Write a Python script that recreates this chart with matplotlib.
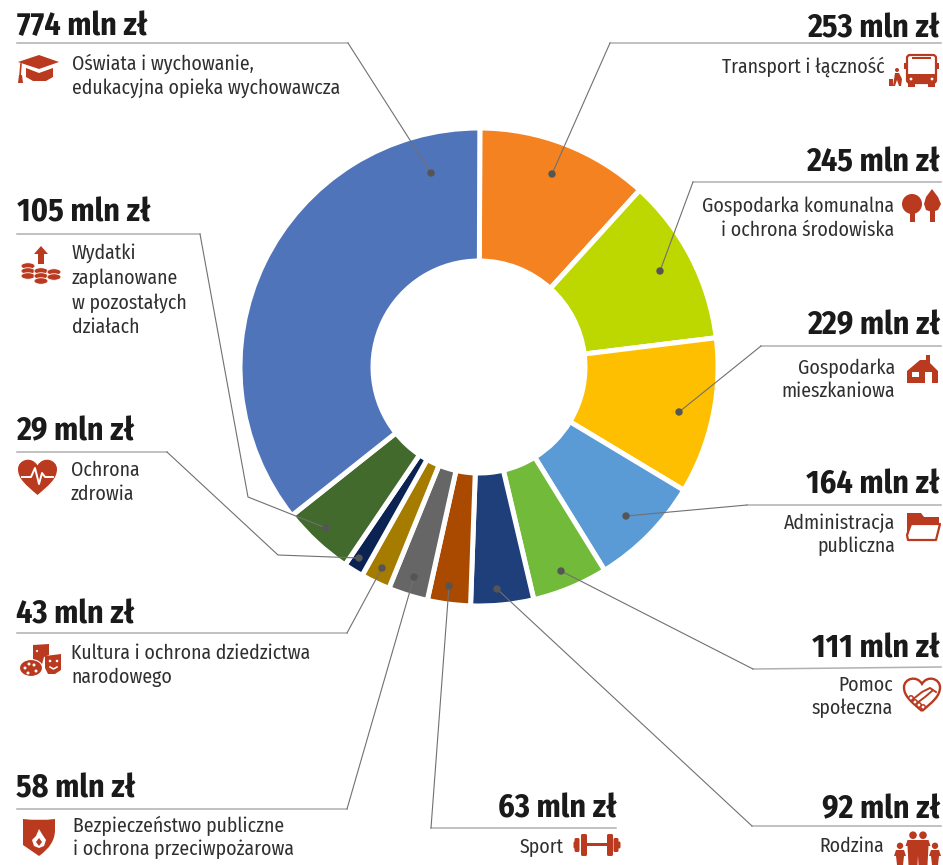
import matplotlib
matplotlib.use('Agg')
import matplotlib.pyplot as plt
import matplotlib.patches as patches
from matplotlib.path import Path

HEAD_FONT = ['Fira Sans Condensed', 'Lato', 'DejaVu Sans']
BODY_FONT = ['Fira Sans Condensed', 'Lato', 'DejaVu Sans']

# dane (mln zł), zgodnie z ruchem wskazówek od góry
categories = ['Transport i łączność', 'Gospodarka komunalna\ni ochrona środowiska',
              'Gospodarka\nmieszkaniowa', 'Administracja\npubliczna', 'Pomoc\nspołeczna',
              'Rodzina', 'Sport', 'Bezpieczeństwo publiczne\ni ochrona przeciwpożarowa',
              'Kultura i ochrona dziedzictwa\nnarodowego', 'Ochrona\nzdrowia',
              'Wydatki\nzaplanowane\nw pozostałych\ndziałach',
              'Oświata i wychowanie,\nedukacyjna opieka wychowawcza']
values = [253, 245, 229, 164, 111, 92, 63, 58, 43, 29, 105, 774]
colors = ['#F58220', '#BDD700', '#FDBF00', '#5B9BD5', '#72BB3A', '#1E3F7A',
          '#A94A00', '#666666', '#A67C00', '#0A2352', '#436A2D', '#4F74BA']

RED = '#B93A1F'

fig = plt.figure(figsize=(9.43, 8.65), dpi=100)
ax = fig.add_axes([0, 0, 1, 1])

# y odwrócone, więc kąty rosną zgodnie z ruchem wskazówek
ax.pie(values, colors=colors, center=(479, 367), radius=239, startangle=270.2, counterclock=True,
       wedgeprops=dict(width=133, edgecolor='white', linewidth=3.6))
ax.set_xlim(0, 943)
ax.set_ylim(865, 0)

# --- linie odniesienia ---
leaders = [
    [(941, 43), (610, 43), (552, 174)],
    [(941, 182), (693, 182), (660, 271)],
    [(941, 346), (761, 346), (679, 412)],
    [(941, 505), (747, 505), (626, 516)],
    [(941, 667), (753, 669), (561, 571)],
    [(941, 826), (752, 826), (497, 589)],
    [(616, 828), (431, 828), (449, 586)],
    [(17, 809), (347, 809), (414, 577)],
    [(17, 633), (347, 633), (382, 568)],
    [(17, 452), (167, 452), (278, 555), (359, 558)],
    [(17, 234), (200, 234), (248, 497), (326, 528)],
    [(17, 43), (348, 43), (431, 173)],
]
for pts in leaders:
    ax.plot([p[0] for p in pts[:2]], [p[1] for p in pts[:2]], color='#B0B0B0', lw=1.1, zorder=3)
    ax.plot([p[0] for p in pts[1:]], [p[1] for p in pts[1:]], color='#707070', lw=0.8, zorder=3)
    ax.add_patch(patches.Circle(pts[-1], 3, color='#555555', zorder=4))

# --- podpisy: x, linia bazowa nagłówka, linie bazowe opisu, x opisu ---
label_pos = [
    (940, 37, [73], 885, 'right'),
    (940, 172, [212, 236], 894, 'right'),
    (940, 334, [374, 397], 895, 'right'),
    (940, 493, [529, 552], 895, 'right'),
    (940, 657, [691, 714], 893, 'right'),
    (940, 818, [852], 884, 'right'),
    (617, 818, [853], 564, 'right'),
    (16, 798, [832, 855], 73, 'left'),
    (16, 624, [659, 683], 71, 'left'),
    (16, 440, [476, 500], 71, 'left'),
    (17, 222, [259, 284, 309, 333], 72, 'left'),
    (17, 35, [70, 94], 72, 'left'),
]
for cat, val, (hx, hy, lines, tx, ha) in zip(categories, values, label_pos):
    ax.text(hx, hy, f'{val} mln zł', ha=ha, va='baseline', fontsize=23, fontweight='bold',
            family=HEAD_FONT, color='#1A1A1A')
    for row, ty in zip(cat.split('\n'), lines):
        ax.text(tx, ty, row, ha=ha, va='baseline', fontsize=14.2, family=BODY_FONT, color='#2F2F2F')


# --- ikony ---
def poly(pts, color=RED, z=5):
    ax.add_patch(patches.Polygon(pts, closed=True, facecolor=color, edgecolor='none', zorder=z))


def rect(x, y, w, h, color=RED, z=5):
    ax.add_patch(patches.Rectangle((x, y), w, h, facecolor=color, edgecolor='none', zorder=z))


def circ(x, y, r, color=RED):
    ax.add_patch(patches.Circle((x, y), r, facecolor=color, edgecolor='none', zorder=7))


def heart(x0, x1, y0, y1, fc=RED, ec='none', lw=0):
    w, h = x1 - x0, y1 - y0
    xs = lambda t: x0 + t * w
    ys = lambda t: y0 + t * h
    verts = [(xs(.5), ys(1)), (xs(.2), ys(.72)), (xs(0), ys(.55)), (xs(0), ys(.28)),
             (xs(0), ys(.02)), (xs(.35), ys(-.1)), (xs(.5), ys(.18)),
             (xs(.65), ys(-.1)), (xs(1), ys(.02)), (xs(1), ys(.28)),
             (xs(1), ys(.55)), (xs(.8), ys(.72)), (xs(.5), ys(1))]
    codes = [Path.MOVETO] + [Path.CURVE4] * 12
    ax.add_patch(patches.PathPatch(Path(verts, codes), facecolor=fc, edgecolor=ec, lw=lw, zorder=5))


# biret
poly([(39, 55), (59, 62), (39, 69), (18, 62)])
poly([(26, 68), (39, 73), (53, 68), (53, 77), (46, 81), (33, 81), (26, 77)])
ax.plot([21, 20], [64, 76], color=RED, lw=1.2, zorder=5)
poly([(19, 75), (22, 75), (23, 83), (18, 83)])

# monety ze strzałką
poly([(41, 246), (48, 254), (44, 254), (44, 264), (38, 264), (38, 254), (34, 254)])
for cx, ys_ in [(28, [266, 271, 276]), (54, [272, 277]), (41, [271, 276, 281])]:
    for cy in ys_:
        ax.add_patch(patches.Ellipse((cx, cy), 14, 6.5, facecolor=RED, edgecolor='white', lw=0.6, zorder=5 + cy / 1000))

# serce z pulsem
heart(18, 57, 459, 495)
ax.plot([22, 31, 35, 39, 42, 45, 53], [477, 477, 468, 484, 473, 477, 477], color='white', lw=1.4, zorder=6)

# maski i paleta
poly([(33, 645), (49, 644), (49, 655), (44, 657), (41, 668), (36, 668), (33, 662)])
poly([(45, 656), (61, 654), (61, 670), (55, 674), (48, 674), (45, 668)], z=6)
ax.add_patch(patches.Ellipse((31, 668), 23, 17, facecolor=RED, edgecolor='white', lw=0.8, zorder=6))
for x, y in [(25, 668), (29, 664), (34, 665), (28, 673), (36, 671)]:
    circ(x, y, 1.5, 'white')
circ(50, 661, 1.3, 'white')
circ(57, 661, 1.3, 'white')
ax.plot([50, 53.5, 57], [667, 669, 667], color='white', lw=1.1, zorder=7)
circ(37, 651, 1.1, 'white')

# tarcza z płomieniem
shield = Path([(23, 819), (39, 821), (55, 819), (55, 830), (55, 845), (39, 856), (39, 856),
               (39, 856), (23, 845), (23, 830), (23, 819)],
              [Path.MOVETO, Path.CURVE3, Path.CURVE3, Path.LINETO, Path.CURVE3, Path.CURVE3, Path.LINETO,
               Path.CURVE3, Path.CURVE3, Path.LINETO, Path.CLOSEPOLY])
ax.add_patch(patches.PathPatch(shield, facecolor=RED, edgecolor='none', zorder=5))
poly([(39, 829), (42, 834), (46, 840), (44, 846), (39, 848), (34, 846), (32, 840), (36, 836)], color='white', z=6)
poly([(39, 838), (42, 842), (39, 846), (36, 842)], z=7)

# autobus i pasażer
ax.add_patch(patches.FancyBboxPatch((907, 55), 29, 28, boxstyle='round,pad=0,rounding_size=3',
                                    facecolor='white', edgecolor=RED, lw=1.6, zorder=5))
rect(907, 74, 29, 9, z=6)
rect(908, 83, 7, 4, z=6)
rect(928, 83, 7, 4, z=6)
rect(904, 63, 2, 6)
rect(937, 63, 2, 6)
rect(912, 57, 19, 2, z=6)
circ(911, 79, 1.4, 'white')
circ(932, 79, 1.4, 'white')
circ(897, 70, 2)
poly([(895, 73), (899, 73), (902, 79), (901, 86), (899, 86), (897, 80), (895, 86), (893, 86)])
rect(889, 79, 3.5, 7)

# drzewa
circ(912, 204, 10)
rect(909.5, 210, 5, 12, z=6)
poly([(932, 189), (938, 197), (941, 204), (938, 210), (932, 212), (926, 210), (924, 204), (926, 197)])
rect(929.5, 208, 5, 14)

# dom
poly([(907, 371), (920, 360), (926, 360), (926, 355), (930, 355), (930, 363), (938, 371), (938, 383), (907, 383)])
rect(912, 372, 7, 5, 'white', z=6)
rect(925, 372, 7, 11, 'white', z=6)

# teczka
poly([(907, 513), (921, 513), (924, 517), (939, 517), (939, 523), (911, 523), (908, 535), (907, 535)])
ax.add_patch(patches.Polygon([(911, 524), (940, 524), (936, 540), (908, 540), (907, 535)], closed=True,
                             facecolor='none', edgecolor=RED, lw=1.6, joinstyle='round', zorder=5))

# uścisk dłoni w sercu
heart(904, 940, 678, 711, fc='white', ec=RED, lw=1.7)
ax.plot([912, 922, 930, 936], [700, 692, 688, 692], color=RED, lw=1.4, zorder=6)
ax.plot([917, 925, 932], [703, 697, 691], color=RED, lw=1.4, zorder=6)
for x, y in [(911, 698), (915, 702), (919, 705), (923, 707)]:
    ax.add_patch(patches.Circle((x, y), 2.2, facecolor='white', edgecolor=RED, lw=1.1, zorder=7))

# rodzina
for cx, top, r, w in [(900, 850, 3.2, 8), (913, 840, 3.8, 11), (923, 840, 3.8, 11), (935, 850, 3.2, 8)]:
    circ(cx, top - r - 1, r)
    poly([(cx - w / 2 - 2, top + 6), (cx - w / 2, top), (cx + w / 2, top), (cx + w / 2 + 2, top + 6),
          (cx + w / 2, top + 6), (cx + w / 2 - 1, 865), (cx - w / 2 + 1, 865), (cx - w / 2, top + 6)])

# hantla
rect(585, 843, 24, 3.4)
for cx, h, w in [(584, 22, 6), (577, 14, 5), (575, 7, 3), (610, 22, 6), (616, 14, 5), (619, 7, 3)]:
    ax.add_patch(patches.FancyBboxPatch((cx - w / 2, 845 - h / 2), w, h, boxstyle='round,pad=0,rounding_size=1.5',
                                        facecolor=RED, edgecolor='none', zorder=5))

fig.savefig('out.png', dpi=100)
